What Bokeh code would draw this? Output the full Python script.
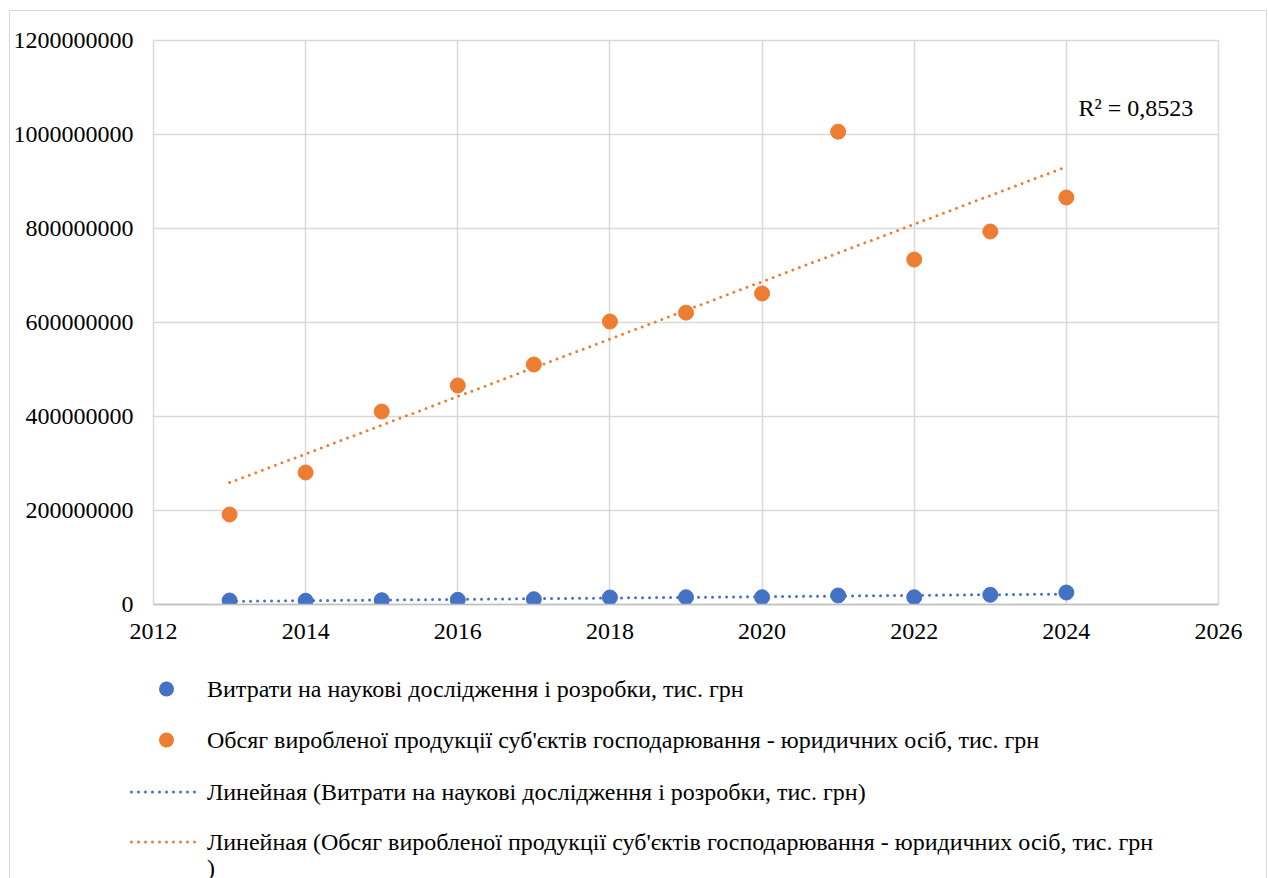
from bokeh.plotting import figure
from bokeh.layouts import column
from bokeh.models import (FixedTicker, BasicTickFormatter, Label, Range1d,
                          ColumnDataSource, Div)
from bokeh.embed import file_html
from bokeh.resources import INLINE
import numpy as np

years = [2013, 2014, 2015, 2016, 2017, 2018, 2019, 2020, 2021, 2022, 2023, 2024]
rd_costs = [8.5e6, 8.0e6, 9.2e6, 10.0e6, 11.3e6, 14.9e6, 15.5e6, 15.5e6, 19.2e6, 15.5e6, 20.6e6, 25.5e6]
output_vol = [191.5e6, 280.9e6, 410.6e6, 466e6, 510.6e6, 602e6, 621e6, 661.7e6,
              1006e6, 734e6, 793.6e6, 866e6]
x_ticks = [2012, 2014, 2016, 2018, 2020, 2022, 2024, 2026]
y_ticks = [0, 200000000, 400000000, 600000000, 800000000, 1000000000, 1200000000]

name_rd = "Витрати на наукові дослідження і розробки, тис. грн"
name_out = "Обсяг виробленої продукції суб'єктів господарювання - юридичних осіб, тис. грн"
name_rd_trend = "Линейная (Витрати на наукові дослідження і розробки, тис. грн)"
name_out_trend = "Линейная (Обсяг виробленої продукції суб'єктів господарювання - юридичних осіб, тис. грн<br>)"
r2_text = "R² = 0,8523"

BLUE = "#4472C4"
ORANGE = "#ED7D31"
FONT = "Liberation Serif"

def trend(xs, ys):
    k, b = np.polyfit(np.array(xs, float), np.array(ys, float), 1)
    return [k * x + b for x in xs]

# ---------------- main chart ----------------
p = figure(width=1256, height=653, output_backend="svg", toolbar_location=None,
           x_range=Range1d(2012, 2026), y_range=Range1d(0, 1.2e9),
           min_border_left=143, min_border_right=48, min_border_top=29,
           min_border_bottom=60)

p.outline_line_color = "#d9d9d9"
p.outline_line_width = 1.5

p.xgrid.ticker = FixedTicker(ticks=x_ticks)
p.ygrid.ticker = FixedTicker(ticks=y_ticks)
p.xgrid.grid_line_color = "#d9d9d9"
p.ygrid.grid_line_color = "#d9d9d9"
p.xgrid.grid_line_width = 1.5
p.ygrid.grid_line_width = 1.5

p.xaxis.ticker = FixedTicker(ticks=x_ticks)
p.yaxis.ticker = FixedTicker(ticks=y_ticks)
p.yaxis.formatter = BasicTickFormatter(use_scientific=False)
for ax in (p.xaxis, p.yaxis):
    ax.major_tick_line_color = None
    ax.minor_tick_line_color = None
    ax.major_tick_in = 0
    ax.major_tick_out = 0
    ax.major_label_text_font = FONT
    ax.major_label_text_font_size = "24px"
    ax.major_label_text_color = "#000000"
p.xaxis.axis_line_color = "#bfbfbf"
p.xaxis.axis_line_width = 1.5
p.yaxis.axis_line_color = None
p.xaxis.major_label_standoff = 19
p.yaxis.major_label_standoff = 20

src = ColumnDataSource(dict(x=years, rd=rd_costs, out=output_vol,
                            rd_t=trend(years, rd_costs), out_t=trend(years, output_vol)))

line_style = dict(line_width=3, line_dash="0 7", line_cap="round")
p.line("x", "rd_t", source=src, line_color=BLUE, **line_style)
p.line("x", "out_t", source=src, line_color=ORANGE, **line_style)
p.scatter("x", "rd", source=src, size=15, fill_color=BLUE, line_color=BLUE)
p.scatter("x", "out", source=src, size=15, fill_color=ORANGE, line_color=ORANGE)

p.add_layout(Label(x=2024.16, y=1.0555e9, text=r2_text, text_font=FONT,
                   text_font_size="24px", text_baseline="middle", text_align="left",
                   text_color="#000000"))

# ---------------- legend (below the chart, Excel style) ----------------
legend_entries = [
    (name_rd, BLUE, "marker"),
    (name_out, ORANGE, "marker"),
    (name_rd_trend, BLUE, "line"),
    (name_out_trend, ORANGE, "line"),
]
row_centers = [25, 76, 128, 178]

parts = []
for (label, color, kind), cy in zip(legend_entries, row_centers):
    if kind == "marker":
        glyph = f'<circle cx="36.5" cy="10" r="7.5" fill="{color}"/>'
    else:
        glyph = (f'<line x1="1.5" y1="10" x2="71.5" y2="10" stroke="{color}" '
                 f'stroke-width="3" stroke-linecap="round" stroke-dasharray="0 7"/>')
    parts.append(f'<svg style="position:absolute;left:120px;top:{cy - 10}px" '
                 f'width="73" height="20">{glyph}</svg>')
    parts.append(f'<div style="position:absolute;left:197px;top:{cy - 13}px;'
                 f'line-height:26px;white-space:nowrap">{label}</div>')

legend_html = (f'<div style="position:relative;width:1256px;height:214px;'
               f'font-family:\'{FONT}\';font-size:24px;color:#000000">'
               + "".join(parts) + '</div>')

legend_div = Div(text=legend_html, width=1256, height=214,
                 styles={"margin": "0", "padding": "0"})

layout = column(p, legend_div, spacing=0,
                styles={"margin-left": "9px", "margin-top": "10px",
                        "border": "1px solid #d9d9d9"})

open("out.html", "w").write(file_html(layout, INLINE))
